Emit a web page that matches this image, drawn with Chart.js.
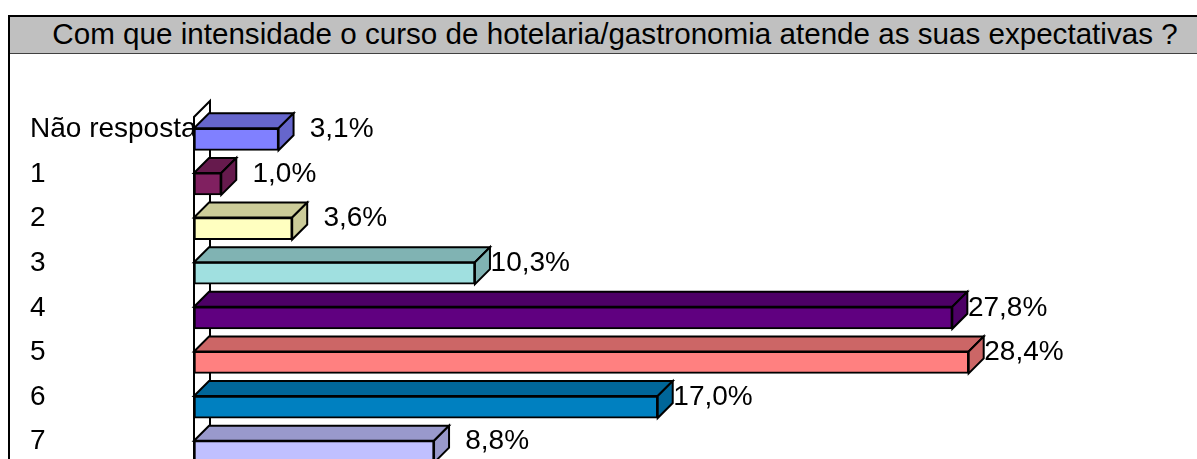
<!DOCTYPE html>
<html>
<head>
<meta charset="utf-8">
<script src="https://cdn.jsdelivr.net/npm/chart.js@4/dist/chart.umd.min.js"></script>
<style>
  html, body { margin: 0; padding: 0; width: 1197px; height: 459px; overflow: hidden; background: #fff; }
  #frame { position: absolute; left: 8px; top: 15px; width: 1210px; height: 600px;
           border-top: 2px solid #000; border-left: 2px solid #000; }
  #title { height: 36px; line-height: 38px; background: #c0c0c0; border-bottom: 1px solid #404040;
           text-align: center; font: 29.6px "Liberation Sans", Arial, sans-serif; color: #000; white-space: nowrap; }
  #chart { position: absolute; left: 0; top: 0; }
</style>
</head>
<body>
<div id="frame"><div id="title">Com que intensidade o curso de hotelaria/gastronomia atende as suas expectativas ?</div></div>
<canvas id="chart" width="1197" height="500"></canvas>
<script>
var categories = ['Não resposta', '1', '2', '3', '4', '5', '6', '7'];
var values = [3.1, 1.0, 3.6, 10.3, 27.8, 28.4, 17.0, 8.8];
var frontColors = ['#8080ff', '#802060', '#ffffc0', '#a0e0e0', '#600080', '#ff8080', '#0080c0', '#c0c0ff'];
var shadeColors = ['#6666cc', '#661a4d', '#cccc99', '#80b3b3', '#4d0066', '#cc6666', '#006699', '#9999cc'];

var depth = 15;
var labelFont = '28px "Liberation Sans", Arial, sans-serif';

function fmt(v) {
    return v.toFixed(1).replace('.', ',') + '%';
}

var threeD = {
    id: 'threeD',
    beforeDatasetsDraw: function(chart) {
        // white side wall behind the category axis
        var ctx = chart.ctx, a = chart.chartArea;
        ctx.save();
        ctx.beginPath();
        ctx.moveTo(a.left, a.bottom + 20);
        ctx.lineTo(a.left, a.top);
        ctx.lineTo(a.left + depth + 1, a.top - depth - 1);
        ctx.lineTo(a.left + depth + 1, a.bottom + 20);
        ctx.closePath();
        ctx.fillStyle = '#fff';
        ctx.fill();
        ctx.lineWidth = 2;
        ctx.strokeStyle = '#000';
        ctx.stroke();
        ctx.restore();
    },
    afterDatasetsDraw: function(chart) {
        var ctx = chart.ctx;
        var meta = chart.getDatasetMeta(0);
        ctx.save();
        ctx.lineWidth = 2;
        ctx.strokeStyle = '#000';
        ctx.lineJoin = 'miter';
        meta.data.forEach(function(bar, i) {
            var x0 = bar.base, x1 = bar.x;
            var top = bar.y - bar.height / 2, bot = bar.y + bar.height / 2;
            ctx.fillStyle = shadeColors[i];
            // top face
            ctx.beginPath();
            ctx.moveTo(x0, top);
            ctx.lineTo(x0 + depth, top - depth);
            ctx.lineTo(x1 + depth, top - depth);
            ctx.lineTo(x1, top);
            ctx.closePath();
            ctx.fill();
            ctx.stroke();
            // side face
            ctx.beginPath();
            ctx.moveTo(x1, top);
            ctx.lineTo(x1 + depth, top - depth);
            ctx.lineTo(x1 + depth, bot - depth);
            ctx.lineTo(x1, bot);
            ctx.closePath();
            ctx.fill();
            ctx.stroke();
            // value label
            ctx.fillStyle = '#000';
            ctx.font = labelFont;
            ctx.textAlign = 'right';
            ctx.textBaseline = 'middle';
            ctx.fillText(fmt(values[i]), x1 + 95, bar.y - 10);
        });
        ctx.restore();
    }
};

var ctx = document.getElementById('chart').getContext('2d');
var chart = new Chart(ctx, {
    type: 'bar',
    data: {
        labels: categories,
        datasets: [{
            data: values,
            backgroundColor: frontColors,
            borderColor: '#000',
            borderWidth: 2,
            borderSkipped: false,
            barThickness: 22
        }]
    },
    options: {
        indexAxis: 'y',
        responsive: false,
        animation: false,
        devicePixelRatio: 1,
        layout: { padding: { left: 30, top: 117, right: 21, bottom: 26 } },
        plugins: {
            legend: { display: false },
            tooltip: { enabled: false },
            title: { display: false }
        },
        scales: {
            x: {
                display: false,
                min: 0,
                max: 36
            },
            y: {
                grid: { display: false },
                border: { display: false },
                afterFit: function(scale) { scale.width = 164; },
                ticks: {
                    crossAlign: 'far',
                    labelOffset: -10,
                    padding: 0,
                    color: '#000',
                    font: { family: '"Liberation Sans", Arial, sans-serif', size: 28 }
                }
            }
        }
    },
    plugins: [threeD]
});
</script>
</body>
</html>
